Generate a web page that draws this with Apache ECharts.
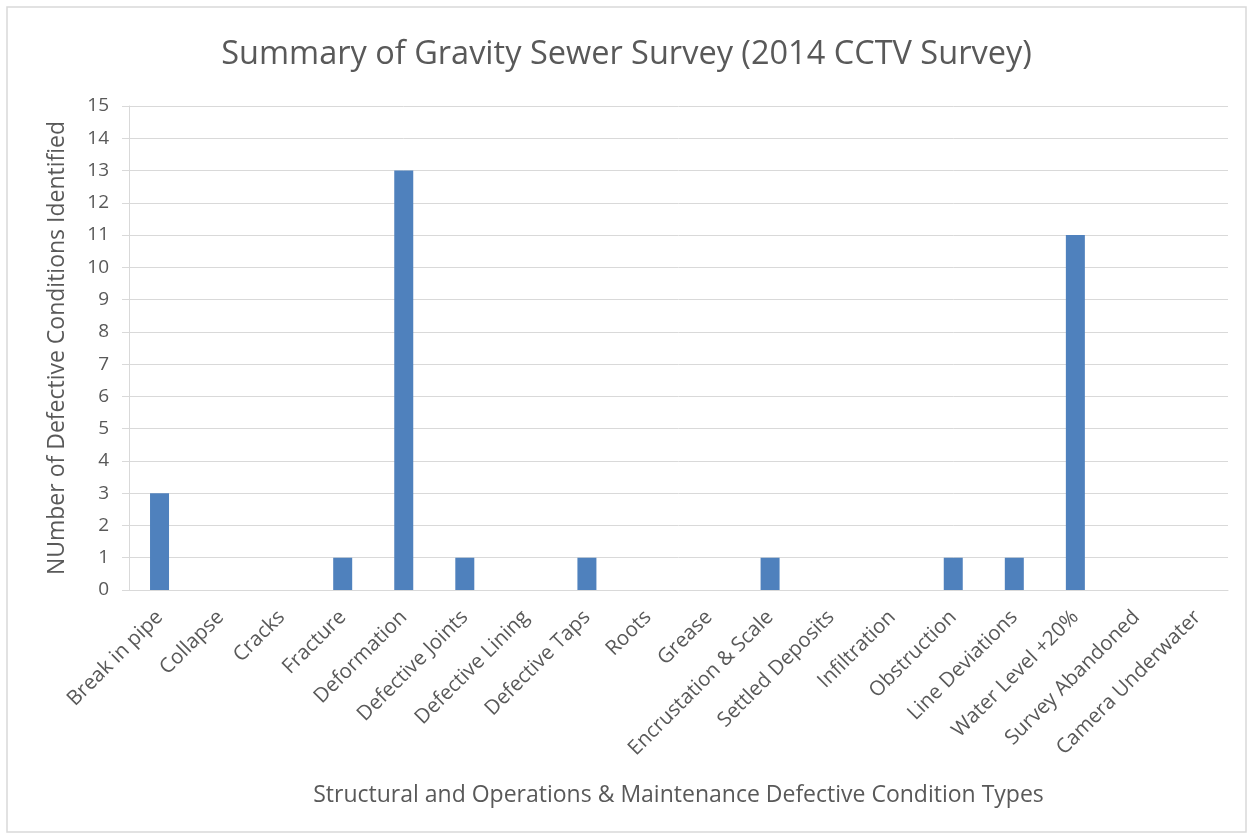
<!DOCTYPE html>
<html>
    <head>
        <meta charset="utf-8">
        <script src="https://cdn.jsdelivr.net/npm/echarts@6/dist/echarts.min.js"></script>
        <style>
            html, body { margin: 0; padding: 0; background: #fff; }
            #main { width: 1253px; height: 839px; }
        </style>
    </head>
    <body>
        <div id="main"></div>
        <script>

        var categories = [
            'Break in pipe', 'Collapse', 'Cracks', 'Fracture', 'Deformation',
            'Defective Joints', 'Defective Lining', 'Defective Taps', 'Roots', 'Grease',
            'Encrustation & Scale', 'Settled Deposits', 'Infiltration', 'Obstruction',
            'Line Deviations', 'Water Level +20%', 'Survey Abandoned', 'Camera Underwater'
        ];
        var counts = [3, 0, 0, 1, 13, 1, 0, 1, 0, 0, 1, 0, 0, 1, 1, 11, 0, 0];

        var chart = echarts.init(document.getElementById('main'));
        var textColor = '#595959';
        var lineColor = '#d9d9d9';
        var font = 'Open Sans';

        chart.setOption({
            animation: false,
            graphic: [{
                type: 'rect',
                shape: { x: 7, y: 7, width: 1239, height: 825 },
                style: { fill: 'none', stroke: lineColor, lineWidth: 1.5 },
                silent: true
            }],
            title: {
                text: 'Summary of Gravity Sewer Survey (2014 CCTV Survey)',
                left: 'center',
                top: 33,
                textStyle: {
                    fontFamily: font,
                    fontSize: 32.5,
                    fontWeight: 'normal',
                    color: textColor
                }
            },
            grid: {
                left: 129,
                right: 25,
                top: 106,
                bottom: 249
            },
            xAxis: {
                type: 'category',
                data: categories,
                name: 'Structural and Operations & Maintenance Defective Condition Types',
                nameLocation: 'middle',
                nameGap: 194,
                nameTextStyle: { fontFamily: font, fontSize: 23, color: textColor },
                axisLine: { lineStyle: { color: lineColor } },
                axisTick: { alignWithLabel: true, length: 7, lineStyle: { color: lineColor } },
                axisLabel: {
                    interval: 0,
                    rotate: 45,
                    margin: 24,
                    fontFamily: font,
                    fontSize: 20.5,
                    color: textColor
                }
            },
            yAxis: {
                type: 'value',
                min: 0,
                max: 15,
                interval: 1,
                name: 'NUmber of Defective Conditions Identified',
                nameLocation: 'middle',
                nameGap: 60,
                nameTextStyle: { fontFamily: font, fontSize: 23, color: textColor },
                axisLine: { show: true, lineStyle: { color: lineColor } },
                axisTick: { show: true, length: 7, lineStyle: { color: lineColor } },
                splitLine: { lineStyle: { color: lineColor } },
                axisLabel: {
                    margin: 20,
                    fontFamily: font,
                    fontSize: 19,
                    color: textColor
                }
            },
            series: [{
                type: 'bar',
                data: counts,
                barWidth: 19,
                itemStyle: { color: '#4f81bd' }
            }]
        });

        window.onresize = chart.resize;

        </script>
    </body>
</html>
